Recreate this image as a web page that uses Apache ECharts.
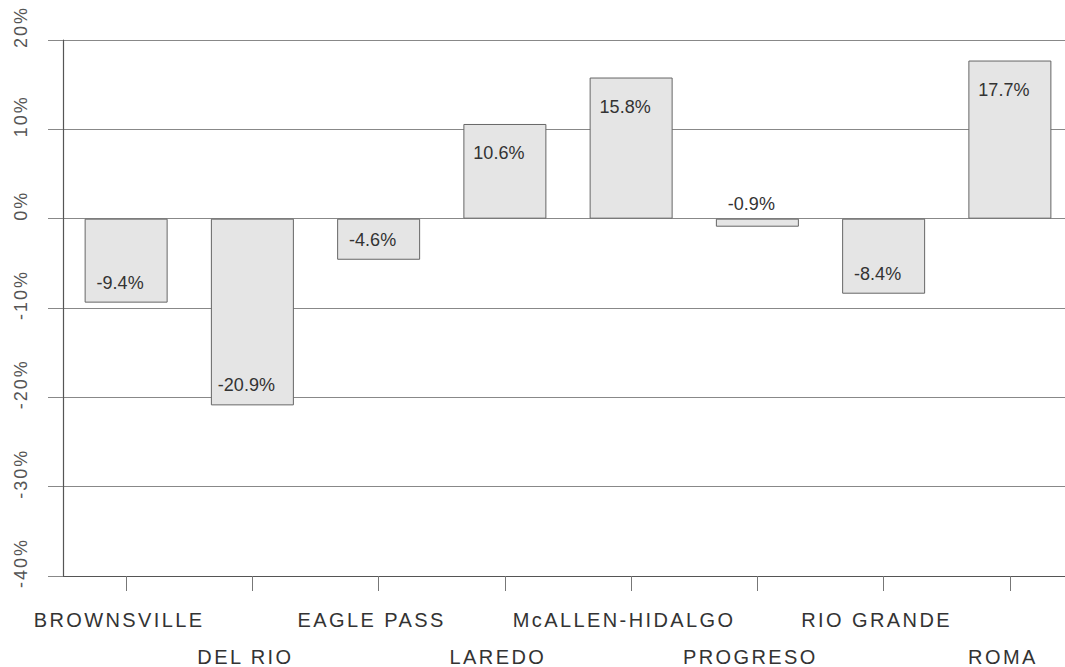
<!DOCTYPE html>
<html>
<head>
<meta charset="utf-8">
<script src="https://cdn.jsdelivr.net/npm/echarts@6/dist/echarts.min.js"></script>
<style>
html,body{margin:0;padding:0;background:#fff;}
#chart{width:1065px;height:667px;}
</style>
</head>
<body>
<div id="chart"></div>
<script>
const categories = ['BROWNSVILLE', 'DEL RIO', 'EAGLE PASS', 'LAREDO', 'McALLEN-HIDALGO', 'PROGRESO', 'RIO GRANDE', 'ROMA'];
const values = [-9.4, -20.9, -4.6, 10.6, 15.8, -0.9, -8.4, 17.7];
const yMin = -40, yMax = 20, yStep = 10;

const FONT = '"Liberation Sans", Arial, Helvetica, sans-serif';

const data = values.map(function (v) {
  let label;
  if (v >= 0) {
    label = { position: 'insideTop', distance: 20 };
  } else if (v > -2) {
    label = { position: 'top', distance: 6 };
  } else {
    label = { position: 'insideBottom', distance: 11 };
  }
  return { value: v, label: label };
});

const chart = echarts.init(document.getElementById('chart'), null, { renderer: 'svg' });
chart.setOption({
  animation: false,
  backgroundColor: '#ffffff',
  grid: { left: 63, top: 40, width: 1010, height: 536, containLabel: false, outerBoundsMode: 'none' },
  xAxis: {
    type: 'category',
    data: categories,
    boundaryGap: true,
    axisLine: { onZero: false, lineStyle: { color: '#555', width: 1.2 } },
    axisTick: { show: true, alignWithLabel: true, length: 15, lineStyle: { color: '#777', width: 1 } },
    axisLabel: {
      interval: 0,
      margin: 25,
      color: '#333',
      fontFamily: FONT,
      fontSize: 20,
      lineHeight: 37,
      verticalAlign: 'top',
      padding: [0, 14, 0, 0],
      formatter: function (val, idx) { return idx % 2 === 1 ? '\n' + val : val; }
    },
    splitLine: { show: false }
  },
  yAxis: {
    type: 'value',
    min: yMin,
    max: yMax,
    interval: yStep,
    axisLine: { show: true, lineStyle: { color: '#555', width: 1.2 } },
    axisTick: { show: true, length: 15, lineStyle: { color: '#888', width: 1 } },
    axisLabel: {
      rotate: 90,
      margin: 33,
      color: '#555',
      fontFamily: FONT,
      fontSize: 18,
      padding: [0, 0, 0, 26],
      formatter: '{value}%'
    },
    splitLine: { show: true, lineStyle: { color: '#888', width: 1 } }
  },
  series: [{
    type: 'bar',
    data: data,
    barWidth: 83,
    itemStyle: { color: '#e5e5e5', borderColor: '#666', borderWidth: 1 },
    label: {
      show: true,
      color: '#333',
      fontFamily: FONT,
      fontSize: 18,
      offset: [-6, 0],
      formatter: function (p) { return p.value.toFixed(1) + '%'; }
    }
  }]
});

function spaceText() {
  document.querySelectorAll('#chart svg text').forEach(function (t) {
    const s = t.textContent;
    if (s.indexOf('.') < 0) {
      t.style.letterSpacing = s.indexOf('%') >= 0 ? '2px' : '2.4px';
    }
  });
}
chart.on('finished', spaceText);
setTimeout(spaceText, 50);
setTimeout(spaceText, 300);
</script>
</body>
</html>
